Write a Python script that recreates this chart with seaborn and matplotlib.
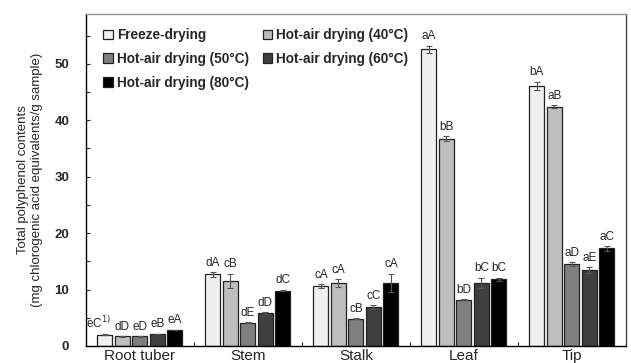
import pandas as pd
import numpy as np
import matplotlib
matplotlib.use("Agg")
import matplotlib.pyplot as plt
import seaborn as sns

parts = ["Root tuber", "Stem", "Stalk", "Leaf", "Tip"]
methods = ["Freeze-drying", "Hot-air drying (40\u00b0C)", "Hot-air drying (50\u00b0C)",
           "Hot-air drying (60\u00b0C)", "Hot-air drying (80\u00b0C)"]
colors = ["#f0f0f0", "#bebebe", "#7f7f7f", "#3f3f3f", "#000000"]

# values per method, in order of parts
fd = [2.0, 12.7, 10.6, 52.6, 46.1]
t40 = [1.7, 11.5, 11.1, 36.7, 42.4]
t50 = [1.7, 4.1, 4.8, 8.2, 14.5]
t60 = [2.1, 5.8, 6.9, 11.2, 13.5]
t80 = [2.85, 9.8, 11.2, 11.8, 17.3]

fd_err = [0.05, 0.4, 0.35, 0.6, 0.7]
t40_err = [0.05, 1.3, 0.7, 0.45, 0.3]
t50_err = [0.05, 0.1, 0.1, 0.1, 0.3]
t60_err = [0.05, 0.2, 0.3, 0.9, 0.5]
t80_err = [0.05, 0.15, 1.6, 0.3, 0.4]

fd_lab = ["eC$^{1)}$", "dA", "cA", "aA", "bA"]
t40_lab = ["dD", "cB", "cA", "bB", "aB"]
t50_lab = ["eD", "dE", "cB", "bD", "aD"]
t60_lab = ["eB", "dD", "cC", "bC", "aE"]
t80_lab = ["eA", "dC", "cA", "bC", "aC"]

vals = [fd, t40, t50, t60, t80]
errs = [fd_err, t40_err, t50_err, t60_err, t80_err]
labs = [fd_lab, t40_lab, t50_lab, t60_lab, t80_lab]

rows = []
for m, v in zip(methods, vals):
    for p, x in zip(parts, v):
        rows.append({"part": p, "method": m, "value": x})
df = pd.DataFrame(rows)

sns.set_style("white")
plt.rcParams['font.family'] = ['Liberation Sans', 'DejaVu Sans']

fig = plt.figure(figsize=(6.31, 3.63), dpi=100)
ax = fig.add_axes([0.136, 0.047, 0.856, 0.914])

sns.barplot(data=df, x="part", y="value", hue="method", order=parts, hue_order=methods,
            palette=colors, errorbar=None, width=0.81, gap=0.14,
            edgecolor="#222222", linewidth=0.9, ax=ax)

# error bars and letters
bar_conts = list(ax.containers)
for i, cont in enumerate(bar_conts):
    for j, bar in enumerate(cont.patches):
        xc = bar.get_x() + bar.get_width() / 2
        h = bar.get_height()
        e = errs[i][j]
        ax.errorbar(xc, h, yerr=e, fmt="none", ecolor="#555555", elinewidth=0.8,
                    capsize=2, capthick=0.8)
        tx = xc - 0.06 if (i == 0 and j == 0) else xc
        ax.text(tx, h + e + 0.6, labs[i][j], ha="center", va="bottom", fontsize=8.5)

ax.set_xlim(-0.5, 4.5)
ax.set_ylim(0, 58.8)
ax.set_yticks([0, 10, 20, 30, 40, 50])
ax.set_yticks([5, 15, 25, 35, 45, 55], minor=True)
ax.set_xticks([0.5, 1.5, 2.5, 3.5], minor=True)
ax.tick_params(axis="y", which="both", direction="in", length=3, width=0.8,
               labelsize=9.5, left=True, pad=12)
ax.tick_params(axis="x", which="major", length=0, labelsize=11, pad=2.5)
ax.tick_params(axis="x", which="minor", direction="in", length=3, width=0.8, bottom=True)
for lab in ax.get_yticklabels():
    lab.set_fontweight("bold")
ax.set_xlabel("")
ax.set_ylabel("Total polyphenol contents\n(mg chlorogenic acid equivalents/g sample)",
              fontsize=9.5, labelpad=8)

ax.spines["top"].set_color("#999999")
ax.spines["right"].set_color("#444444")
ax.spines["left"].set_color("black")
ax.spines["bottom"].set_color("black")
for s in ax.spines.values():
    s.set_linewidth(1)

handles, labels = ax.get_legend_handles_labels()
order = [0, 2, 4, 1, 3]
ax.legend([handles[k] for k in order], [labels[k] for k in order], ncol=2,
          loc="upper left", bbox_to_anchor=(0.01, 0.995), frameon=False,
          handlelength=0.7, handleheight=0.7, handletextpad=0.3,
          labelspacing=0.72, columnspacing=1.0, prop={"weight": "bold", "size": 9.8})

fig.savefig("out.png", dpi=100)
